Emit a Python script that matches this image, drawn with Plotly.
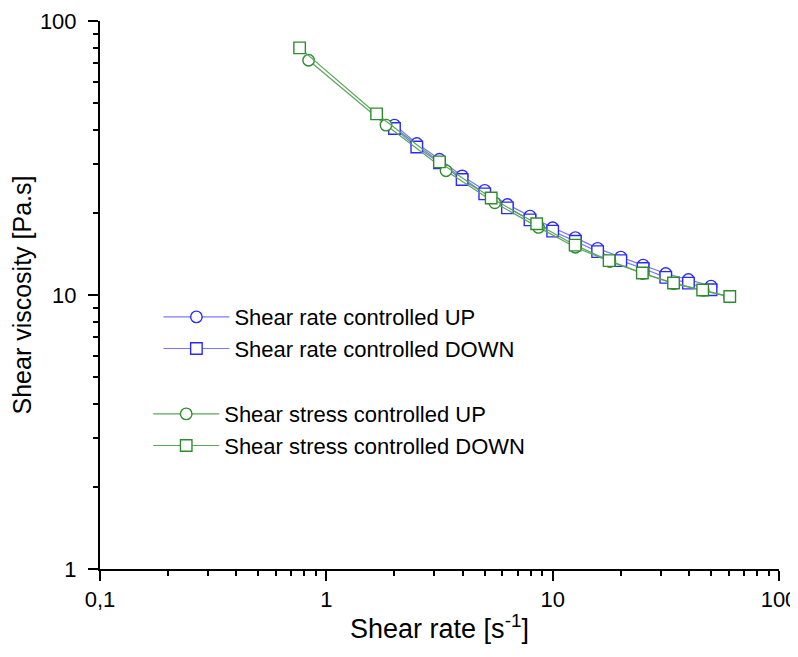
import plotly.graph_objects as go

# Shear rate controlled (blue)
rate_x = [2.0, 2.51, 3.16, 3.98, 5.01, 6.31, 7.94, 10.0, 12.6, 15.8, 20.0, 25.1, 31.6, 39.8, 50.1]
rate_up = [41.7, 35.7, 31.3, 27.2, 24.1, 21.4, 19.4, 17.6, 16.2, 14.8, 13.75, 12.85, 11.98, 11.39, 10.77]
rate_down = [40.5, 34.7, 30.4, 26.4, 23.4, 20.8, 18.8, 17.1, 15.7, 14.4, 13.35, 12.5, 11.6, 11.05, 10.45]

# Shear stress controlled (green)
stress_up_x = [0.835, 1.835, 3.38, 5.55, 8.66, 12.6, 17.9, 25.0, 34.3, 46.2, 60.5]
stress_up = [71.9, 41.7, 28.4, 21.7, 17.65, 14.94, 13.25, 11.98, 11.0, 10.4, 9.85]
stress_down_x = [0.762, 1.668, 3.16, 5.35, 8.50, 12.57, 17.76, 24.9, 34.2, 46.0, 60.6]
stress_down = [79.8, 45.8, 30.6, 22.6, 18.2, 15.2, 13.35, 12.03, 11.06, 10.43, 9.87]

names = ["Shear rate controlled UP", "Shear rate controlled DOWN",
         "Shear stress controlled UP", "Shear stress controlled DOWN"]

x_tickvals = [0.1, 1, 10, 100]
x_ticktext = ["0,1", "1", "10", "100"]
y_tickvals = [1, 10, 100]
y_ticktext = ["1", "10", "100"]

BLUE = "#2a2aff"
BLUE_LINE = "#7878ff"
GREEN = "#2e8b2e"
GREEN_LINE = "#5aa65a"
FONT = "Liberation Sans, Arial, sans-serif"

fig = go.Figure()

def add(x, y, name, symbol, mcol, lcol, legend):
    fig.add_trace(go.Scatter(
        x=x, y=y, name=name, mode="lines+markers",
        line=dict(color=lcol, width=1.2),
        marker=dict(symbol=symbol, size=11.5, color="white",
                    line=dict(color=mcol, width=1.4)),
        legend=legend,
    ))

add(rate_x, rate_up, names[0], "circle", BLUE, BLUE_LINE, "legend")
add(rate_x, rate_down, names[1], "square", BLUE, BLUE_LINE, "legend")
add(stress_up_x, stress_up, names[2], "circle", GREEN, GREEN_LINE, "legend2")
add(stress_down_x, stress_down, names[3], "square", GREEN, GREEN_LINE, "legend2")

axis_common = dict(
    type="log", showline=True, linecolor="black", linewidth=2,
    ticks="outside", ticklen=10, tickwidth=2, tickcolor="black",
    showgrid=False, zeroline=False, mirror=False, automargin=False,
    tickfont=dict(family=FONT, size=22, color="black"),
    minor=dict(ticks="outside", ticklen=5, tickwidth=1.5, tickcolor="black",
               dtick="D1", showgrid=False),
)

fig.update_xaxes(**axis_common, range=[-1, 2], tickmode="array",
                 tickvals=x_tickvals, ticktext=x_ticktext,
                 title=dict(text="Shear rate [s<sup>-1</sup>]",
                            font=dict(family=FONT, size=27, color="black"),
                            standoff=8))
fig.update_yaxes(**axis_common, range=[0, 2], tickmode="array",
                 tickvals=y_tickvals, ticktext=y_ticktext,
                 ticklabelstandoff=7,
                 title=dict(text="Shear viscosity [Pa.s]",
                            font=dict(family=FONT, size=25, color="black"),
                            standoff=7))

legend_common = dict(
    bgcolor="rgba(0,0,0,0)", borderwidth=0,
    font=dict(family=FONT, size=22, color="black"),
    itemwidth=66, tracegroupgap=0,
    xanchor="left", yanchor="top", xref="paper", yref="paper",
)

fig.update_layout(
    width=790, height=649,
    margin=dict(l=92, r=19, t=13, b=88, autoexpand=False),
    paper_bgcolor="white", plot_bgcolor="white",
    legend=dict(**legend_common, x=0.086, y=0.498),
    legend2=dict(**legend_common, x=0.071, y=0.321),
    font=dict(family=FONT, color="black"),
)

fig.write_html("out.html")
